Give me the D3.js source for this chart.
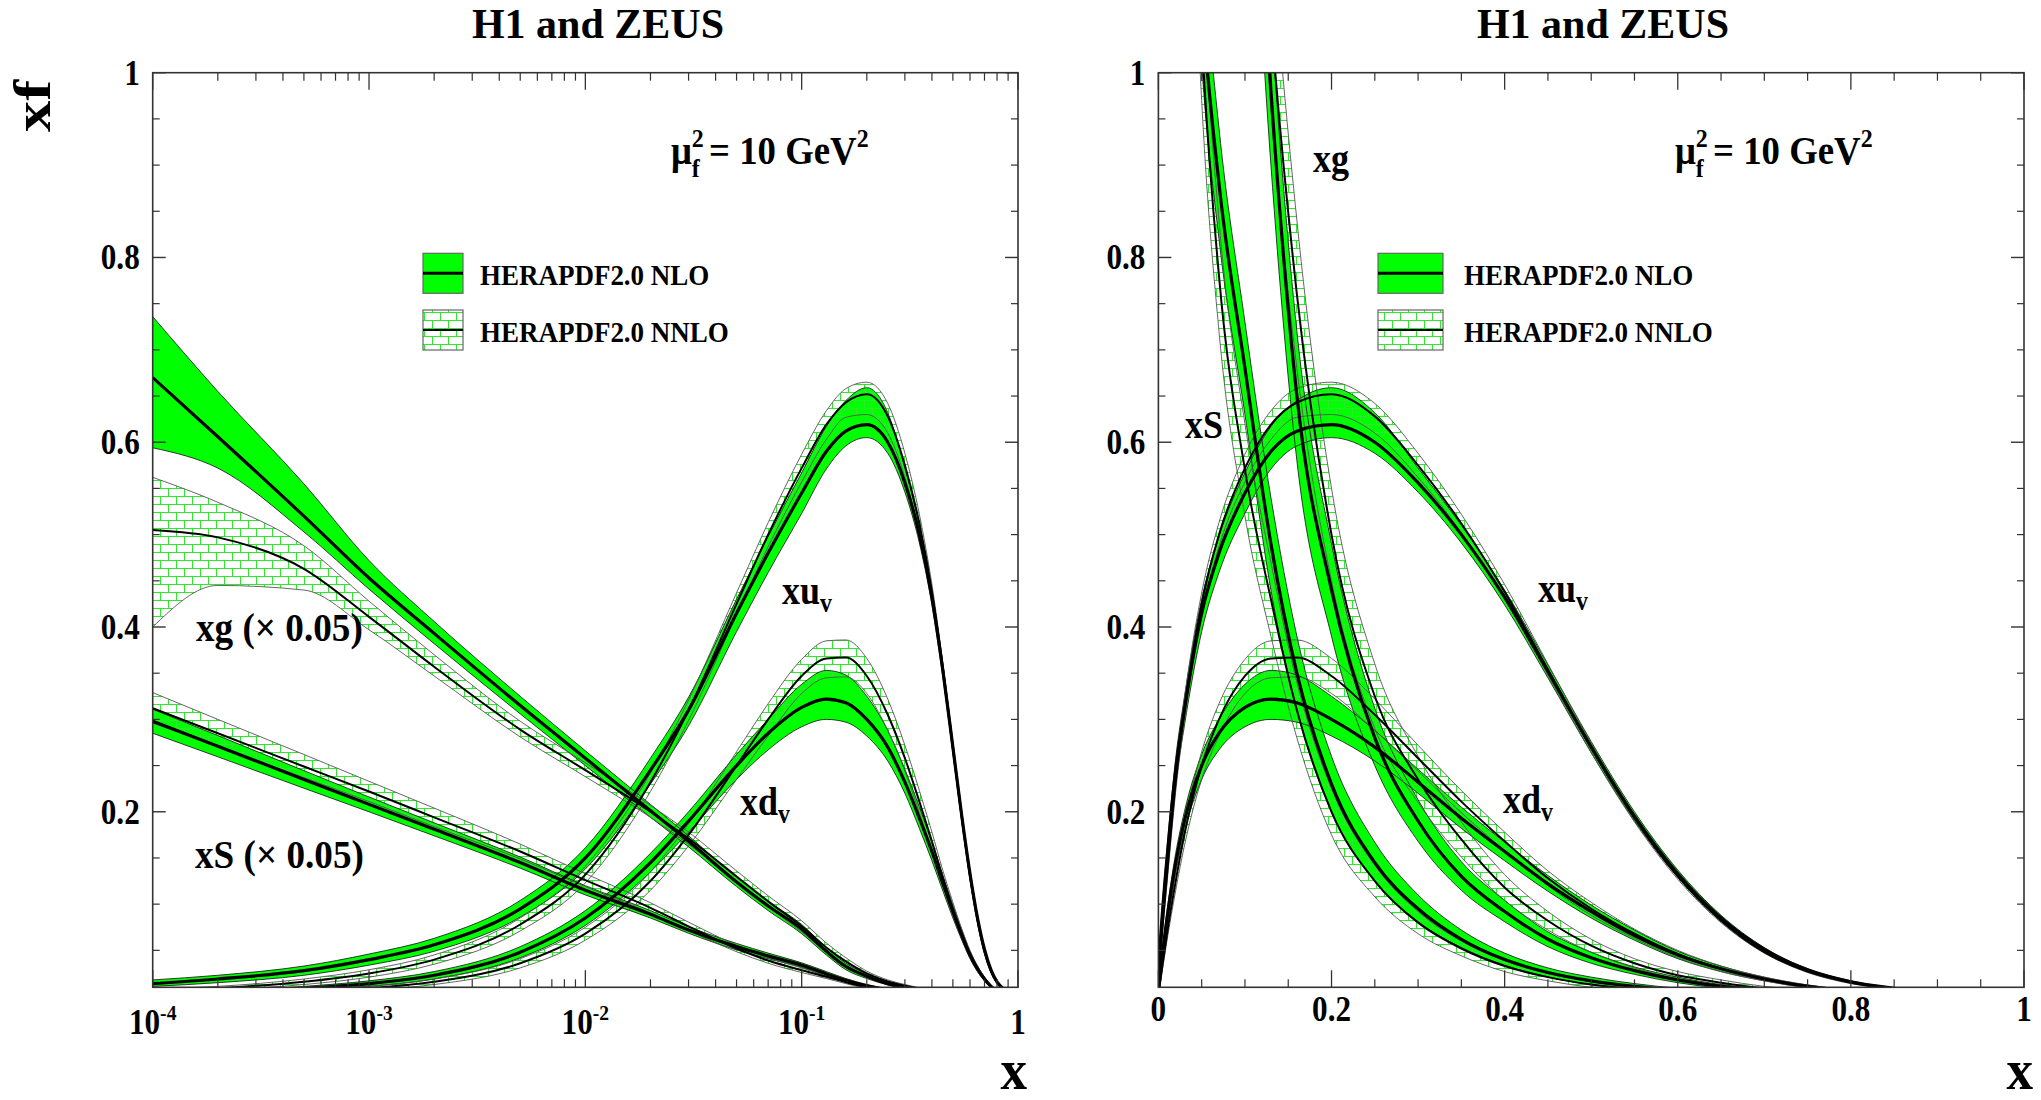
<!DOCTYPE html>
<html><head><meta charset="utf-8">
<script src="https://cdn.jsdelivr.net/npm/d3@7"></script>
<style>
body{margin:0;background:#fff;}
svg{display:block;}
text{font-family:"Liberation Serif","Times New Roman",serif;font-weight:bold;fill:#000;}
</style></head>
<body><svg id="c" width="2041" height="1100"></svg>
<script>
// ---------------- data ----------------
const X = [1e-4, 2e-4, 5e-4, 1e-3, 2e-3, 5e-3, 0.01, 0.02, 0.03, 0.05, 0.07, 0.1, 0.13, 0.16, 0.2, 0.25, 0.3, 0.35, 0.4, 0.45, 0.5, 0.55, 0.6, 0.65, 0.7, 0.75, 0.8, 0.85, 0.9];

const xuvNLO   = [0.014,0.019,0.028,0.040,0.056,0.095,0.150,0.245,0.310,0.415,0.480,0.545,0.590,0.612,0.619,0.600,0.556,0.500,0.432,0.352,0.270,0.195,0.133,0.085,0.051,0.029,0.016,0.009,0.004];
const xuvNLOlo = [0.011,0.015,0.023,0.034,0.049,0.086,0.138,0.230,0.293,0.395,0.459,0.523,0.571,0.596,0.605,0.588,0.546,0.491,0.424,0.345,0.264,0.190,0.129,0.082,0.049,0.028,0.015,0.0085,0.0037];
const xuvNLOhi = [0.018,0.023,0.033,0.046,0.063,0.104,0.161,0.258,0.324,0.430,0.498,0.567,0.617,0.645,0.659,0.632,0.572,0.510,0.440,0.359,0.276,0.200,0.137,0.088,0.053,0.030,0.017,0.0095,0.0043];
const xuvNNLO   = [0.006,0.009,0.016,0.025,0.040,0.078,0.132,0.232,0.310,0.425,0.500,0.572,0.619,0.643,0.652,0.628,0.575,0.512,0.438,0.354,0.269,0.193,0.130,0.082,0.048,0.027,0.015,0.008,0.0035];
const xuvNNLOlo = [0.004,0.007,0.013,0.021,0.035,0.071,0.123,0.222,0.299,0.413,0.487,0.557,0.603,0.627,0.630,0.610,0.562,0.502,0.430,0.348,0.264,0.189,0.127,0.080,0.047,0.026,0.014,0.0075,0.003];
const xuvNNLOhi = [0.008,0.011,0.019,0.029,0.045,0.085,0.141,0.242,0.321,0.437,0.513,0.587,0.634,0.658,0.665,0.642,0.588,0.522,0.446,0.360,0.274,0.197,0.133,0.084,0.049,0.028,0.016,0.0085,0.004];

const xdvNLO   = [0.003,0.005,0.009,0.014,0.023,0.048,0.085,0.145,0.190,0.250,0.285,0.313,0.322,0.318,0.300,0.270,0.232,0.193,0.157,0.122,0.092,0.066,0.045,0.030,0.019,0.011,0.006,0.003,0.0012];
const xdvNLOlo = [0.002,0.004,0.007,0.011,0.019,0.042,0.077,0.135,0.178,0.235,0.267,0.292,0.300,0.297,0.282,0.255,0.220,0.182,0.147,0.114,0.085,0.061,0.041,0.027,0.017,0.0095,0.005,0.0025,0.001];
const xdvNLOhi = [0.004,0.006,0.011,0.017,0.027,0.054,0.093,0.155,0.200,0.262,0.300,0.338,0.353,0.348,0.325,0.288,0.246,0.205,0.167,0.131,0.099,0.072,0.049,0.033,0.021,0.0125,0.007,0.0035,0.0015];
const xdvNNLO   = [0.001,0.002,0.005,0.009,0.016,0.036,0.068,0.125,0.175,0.250,0.300,0.347,0.366,0.367,0.347,0.305,0.258,0.211,0.168,0.128,0.095,0.068,0.046,0.030,0.019,0.011,0.006,0.003,0.0012];
const xdvNNLOlo = [0.0005,0.001,0.004,0.007,0.013,0.031,0.061,0.115,0.163,0.235,0.282,0.328,0.345,0.346,0.328,0.288,0.244,0.199,0.158,0.120,0.088,0.063,0.042,0.027,0.017,0.0095,0.005,0.0025,0.001];
const xdvNNLOhi = [0.0015,0.003,0.006,0.011,0.019,0.041,0.075,0.135,0.187,0.265,0.317,0.365,0.385,0.386,0.366,0.322,0.272,0.223,0.178,0.136,0.102,0.073,0.050,0.033,0.021,0.0125,0.007,0.0035,0.0015];

const xgNLO   = [13.40,12.12,10.40,9.06,7.86,6.30,5.16,4.02,3.36,2.48,1.96,1.46,0.98,0.65,0.44,0.28,0.19,0.13,0.092,0.062,0.042,0.028,0.018,0.011,0.007,0.004,0.002,0.001,0.0005];
const xgNLOlo = [11.88,11.44,10.06,8.82,7.64,6.12,5.00,3.88,3.24,2.38,1.86,1.36,0.90,0.58,0.39,0.25,0.168,0.115,0.081,0.054,0.036,0.024,0.015,0.009,0.0055,0.003,0.0015,0.0007,0.0003];
const xgNLOhi = [14.72,13.10,11.10,9.44,8.12,6.50,5.32,4.16,3.48,2.58,2.06,1.56,1.06,0.72,0.49,0.312,0.213,0.146,0.104,0.070,0.048,0.032,0.021,0.013,0.0085,0.005,0.0025,0.0013,0.0007];
const xgNNLO   = [10.10,9.94,9.26,8.22,7.14,5.78,4.90,4.00,3.42,2.60,2.06,1.52,1.06,0.76,0.50,0.325,0.235,0.17,0.118,0.082,0.055,0.036,0.023,0.015,0.009,0.0055,0.003,0.0015,0.0007];
const xgNNLOlo = [8.00,8.90,8.80,7.94,6.94,5.62,4.76,3.88,3.30,2.48,1.94,1.40,0.96,0.68,0.45,0.29,0.21,0.151,0.104,0.072,0.048,0.031,0.019,0.012,0.007,0.004,0.002,0.001,0.0004];
const xgNNLOhi = [11.24,10.70,9.76,8.56,7.40,5.96,5.06,4.14,3.56,2.72,2.18,1.64,1.16,0.84,0.55,0.36,0.26,0.189,0.132,0.092,0.062,0.041,0.027,0.018,0.011,0.007,0.004,0.002,0.001];

const xSNLO   = [5.96,5.42,4.70,4.16,3.62,2.90,2.30,1.78,1.44,1.08,0.88,0.68,0.49,0.35,0.23,0.145,0.095,0.062,0.040,0.026,0.017,0.011,0.007,0.0045,0.003,0.002,0.001,0.0005,0.0002];
const xSNLOlo = [5.70,5.19,4.51,4.00,3.48,2.78,2.20,1.70,1.37,1.01,0.82,0.63,0.44,0.31,0.20,0.125,0.081,0.053,0.034,0.021,0.013,0.0085,0.005,0.0032,0.002,0.0013,0.0006,0.0003,0.0001];
const xSNLOhi = [6.22,5.65,4.89,4.32,3.76,3.02,2.40,1.86,1.51,1.15,0.94,0.73,0.54,0.39,0.26,0.167,0.110,0.072,0.047,0.031,0.021,0.014,0.009,0.006,0.004,0.0027,0.0014,0.0007,0.0003];
const xSNNLO   = [6.24,5.70,4.98,4.44,3.88,3.14,2.52,1.92,1.52,1.04,0.78,0.57,0.43,0.31,0.20,0.125,0.080,0.052,0.033,0.021,0.013,0.008,0.005,0.003,0.002,0.0012,0.0007,0.0004,0.0002];
const xSNNLOlo = [5.92,5.42,4.74,4.22,3.68,2.98,2.38,1.81,1.43,0.97,0.72,0.52,0.39,0.28,0.175,0.108,0.068,0.044,0.027,0.017,0.010,0.006,0.0035,0.002,0.0013,0.0008,0.0004,0.0002,0.0001];
const xSNNLOhi = [6.58,6.00,5.24,4.66,4.08,3.30,2.66,2.03,1.61,1.11,0.84,0.62,0.47,0.34,0.225,0.142,0.092,0.060,0.039,0.025,0.016,0.010,0.0065,0.004,0.0027,0.0016,0.001,0.0006,0.0003];

const leftGluonSeaFactor = 0.05;   // xg and xS are scaled by 0.05 in the log-x panel

const yMajorTicks = [0.2, 0.4, 0.6, 0.8, 1];
const yTickLabels = ["0.2", "0.4", "0.6", "0.8", "1"];
const logMajorTicks = [1e-4, 1e-3, 1e-2, 1e-1, 1];
const logTickExponents = ["-4", "-3", "-2", "-1", null];
const linMajorTicks = [0, 0.2, 0.4, 0.6, 0.8, 1];
const linTickLabels = ["0", "0.2", "0.4", "0.6", "0.8", "1"];

const titleText = "H1 and ZEUS";
const legendLabels = ["HERAPDF2.0 NLO", "HERAPDF2.0 NNLO"];

// ---------------- drawing ----------------
const GREEN = "#00ff00";
const svg = d3.select("#c");
const defs = svg.append("defs");
const pat = defs.append("pattern").attr("id", "brick").attr("patternUnits", "userSpaceOnUse")
  .attr("width", 16).attr("height", 16);
pat.append("path").attr("d", "M0,0.5H16M0,8.5H16M0.5,0V8.5M8.5,8.5V16")
  .attr("stroke", "#2ee82e").attr("stroke-width", 1).attr("fill", "none");

// text helper: slightly condensed, taller glyphs like the reference
function T(parent, x, y, size, sx, anchor) {
  return parent.append("text")
    .attr("transform", `translate(${x},${y}) scale(${sx},1)`)
    .attr("font-size", size).attr("text-anchor", anchor || "start");
}

const y = d3.scaleLinear().domain([0.01, 1]).range([987.3, 72.7]);

const panels = [
  { id: "L", x: d3.scaleLog().domain([1e-4, 1]).range([152.7, 1018]), gs: leftGluonSeaFactor,
    titleX: 598, muX: 671, legX: 423, legW: 40, legTextX: 480 },
  { id: "R", x: d3.scaleLinear().domain([0, 1]).range([1158.4, 2024]), gs: 1,
    titleX: 1603, muX: 1675, legX: 1378, legW: 65, legTextX: 1464 }
];

function seriesFor(p) {
  return [
    { c: xuvNLO, lo: xuvNLOlo, hi: xuvNLOhi, f: 1, nnlo: false },
    { c: xdvNLO, lo: xdvNLOlo, hi: xdvNLOhi, f: 1, nnlo: false },
    { c: xgNLO,  lo: xgNLOlo,  hi: xgNLOhi,  f: p.gs, nnlo: false },
    { c: xSNLO,  lo: xSNLOlo,  hi: xSNLOhi,  f: p.gs, nnlo: false },
    { c: xuvNNLO, lo: xuvNNLOlo, hi: xuvNNLOhi, f: 1, nnlo: true },
    { c: xdvNNLO, lo: xdvNNLOlo, hi: xdvNNLOhi, f: 1, nnlo: true },
    { c: xgNNLO,  lo: xgNNLOlo,  hi: xgNNLOhi,  f: p.gs, nnlo: true },
    { c: xSNNLO,  lo: xSNNLOlo,  hi: xSNNLOhi,  f: p.gs, nnlo: true }
  ];
}

panels.forEach(p => {
  const x = p.x;
  const [x0, x1] = x.range();
  const [yb, yt] = y.range();
  const clipId = "clip" + p.id;
  defs.append("clipPath").attr("id", clipId).append("rect")
    .attr("x", x0).attr("y", yt).attr("width", x1 - x0).attr("height", yb - yt);
  const g = svg.append("g").attr("clip-path", `url(#${clipId})`);
  const S = seriesFor(p);
  const area = s => d3.area().curve(d3.curveMonotoneX)
    .x((d, i) => x(X[i])).y0((d, i) => y(s.lo[i] * s.f)).y1((d, i) => y(s.hi[i] * s.f))(X);
  const line = (arr, f) => d3.line().curve(d3.curveMonotoneX)
    .x((d, i) => x(X[i])).y((d, i) => y(arr[i] * f))(X);

  S.filter(s => !s.nnlo).forEach(s => g.append("path").attr("d", area(s)).attr("fill", GREEN));
  S.filter(s => s.nnlo).forEach(s => g.append("path").attr("d", area(s)).attr("fill", "url(#brick)"));
  S.forEach(s => {
    [s.lo, s.hi].forEach(a => g.append("path").attr("d", line(a, s.f)).attr("fill", "none")
      .attr("stroke", s.nnlo ? "#555" : "#222").attr("stroke-width", 0.9));
  });
  S.filter(s => s.nnlo).forEach(s => g.append("path").attr("d", line(s.c, s.f))
    .attr("fill", "none").attr("stroke", "#000").attr("stroke-width", 2));
  S.filter(s => !s.nnlo).forEach(s => g.append("path").attr("d", line(s.c, s.f))
    .attr("fill", "none").attr("stroke", "#000").attr("stroke-width", 3.2));

  // frame
  const ax = svg.append("g");
  ax.append("rect").attr("x", x0).attr("y", yt).attr("width", x1 - x0).attr("height", yb - yt)
    .attr("fill", "none").attr("stroke", "#333").attr("stroke-width", 1.6);

  // y ticks (both sides, inward)
  const yMinor = d3.range(1, 20).map(k => k * 0.05).filter(v => yMajorTicks.indexOf(Math.round(v * 100) / 100) < 0);
  yMajorTicks.forEach((v, i) => {
    const yy = y(v);
    ax.append("line").attr("x1", x0).attr("x2", x0 + 13).attr("y1", yy).attr("y2", yy).attr("stroke", "#333").attr("stroke-width", 1.4);
    ax.append("line").attr("x1", x1).attr("x2", x1 - 13).attr("y1", yy).attr("y2", yy).attr("stroke", "#333").attr("stroke-width", 1.4);
    T(ax, x0 - 13, yy + 12, 35, 0.89, "end").text(yTickLabels[i]);
  });
  yMinor.forEach(v => {
    const yy = y(v);
    ax.append("line").attr("x1", x0).attr("x2", x0 + 7).attr("y1", yy).attr("y2", yy).attr("stroke", "#333").attr("stroke-width", 1.2);
    ax.append("line").attr("x1", x1).attr("x2", x1 - 7).attr("y1", yy).attr("y2", yy).attr("stroke", "#333").attr("stroke-width", 1.2);
  });

  // x ticks
  let majors, minors;
  if (p.id === "L") {
    majors = logMajorTicks;
    minors = [];
    for (let e = -4; e < 0; e++) for (let k = 2; k <= 9; k++) minors.push(k * Math.pow(10, e));
  } else {
    majors = linMajorTicks;
    minors = d3.range(1, 20).map(k => k * 0.05).filter(v => Math.abs(v / 0.2 - Math.round(v / 0.2)) > 1e-6);
  }
  majors.forEach(v => {
    const xx = x(v);
    ax.append("line").attr("x1", xx).attr("x2", xx).attr("y1", yb).attr("y2", yb - 17).attr("stroke", "#333").attr("stroke-width", 1.3);
    ax.append("line").attr("x1", xx).attr("x2", xx).attr("y1", yt).attr("y2", yt + 17).attr("stroke", "#333").attr("stroke-width", 1.3);
  });
  minors.forEach(v => {
    const xx = x(v);
    ax.append("line").attr("x1", xx).attr("x2", xx).attr("y1", yb).attr("y2", yb - 8).attr("stroke", "#333").attr("stroke-width", 1.2);
    ax.append("line").attr("x1", xx).attr("x2", xx).attr("y1", yt).attr("y2", yt + 8).attr("stroke", "#333").attr("stroke-width", 1.2);
  });
  if (p.id === "L") {
    logMajorTicks.forEach((v, i) => {
      const t = T(ax, x(v), 1034, 35, 0.89, "middle");
      if (logTickExponents[i] === null) { t.text("1"); }
      else {
        t.append("tspan").text("10");
        t.append("tspan").attr("font-size", 22).attr("dy", -14).text(logTickExponents[i]);
      }
    });
  } else {
    linMajorTicks.forEach((v, i) => {
      T(ax, x(v), 1021, 35, 0.89, "middle").text(linTickLabels[i]);
    });
  }

  // axis title x
  T(ax, x1 + 9, 1089, 56, 0.95, "end").text("x");

  // title
  T(ax, p.titleX, 38, 42, 1.0, "middle").text(titleText);

  // mu_f^2 = 10 GeV^2
  const mu = T(ax, p.muX, 164, 40, 0.92);
  mu.append("tspan").text("\u03bc");
  mu.append("tspan").attr("font-size", 26).attr("dy", -17).text("2");
  mu.append("tspan").attr("font-size", 26).attr("dx", -13).attr("dy", 30).text("f");
  mu.append("tspan").attr("dy", -13).text(" = 10 GeV");
  mu.append("tspan").attr("font-size", 26).attr("dy", -17).text("2");

  // legend
  const lg = svg.append("g");
  lg.append("rect").attr("x", p.legX).attr("y", 253.3).attr("width", p.legW).attr("height", 40)
    .attr("fill", GREEN).attr("stroke", "#666").attr("stroke-width", 1.2);
  lg.append("line").attr("x1", p.legX).attr("x2", p.legX + p.legW).attr("y1", 273.3).attr("y2", 273.3)
    .attr("stroke", "#000").attr("stroke-width", 3);
  lg.append("rect").attr("x", p.legX).attr("y", 310).attr("width", p.legW).attr("height", 40)
    .attr("fill", "url(#brick)").attr("stroke", "#666").attr("stroke-width", 1.2);
  lg.append("line").attr("x1", p.legX).attr("x2", p.legX + p.legW).attr("y1", 330).attr("y2", 330)
    .attr("stroke", "#000").attr("stroke-width", 2);
  T(lg, p.legTextX, 285, 30, 0.9).text(legendLabels[0]);
  T(lg, p.legTextX, 342, 30, 0.9).text(legendLabels[1]);
});

// curve labels
function label(xp, yp, main, sub, size, sx) {
  const t = T(svg, xp, yp, size, sx);
  t.append("tspan").text(main);
  if (sub) t.append("tspan").attr("font-size", size * 0.66).attr("dy", 8).text(sub);
}
label(782, 604, "xu", "v", 40, 0.9);
label(740, 815, "xd", "v", 40, 0.9);
label(196, 641, "xg (\u00d7 0.05)", null, 40, 0.93);
label(195, 868, "xS (\u00d7 0.05)", null, 40, 0.93);
label(1313, 172, "xg", null, 40, 0.9);
label(1185, 438, "xS", null, 40, 0.9);
label(1538, 602, "xu", "v", 40, 0.9);
label(1503, 813, "xd", "v", 40, 0.9);

// y axis title
svg.append("text").attr("transform", "translate(50,80) rotate(-90) scale(1.2,1)").attr("text-anchor", "end")
  .attr("font-size", 52).text("xf");
</script>
</body></html>
